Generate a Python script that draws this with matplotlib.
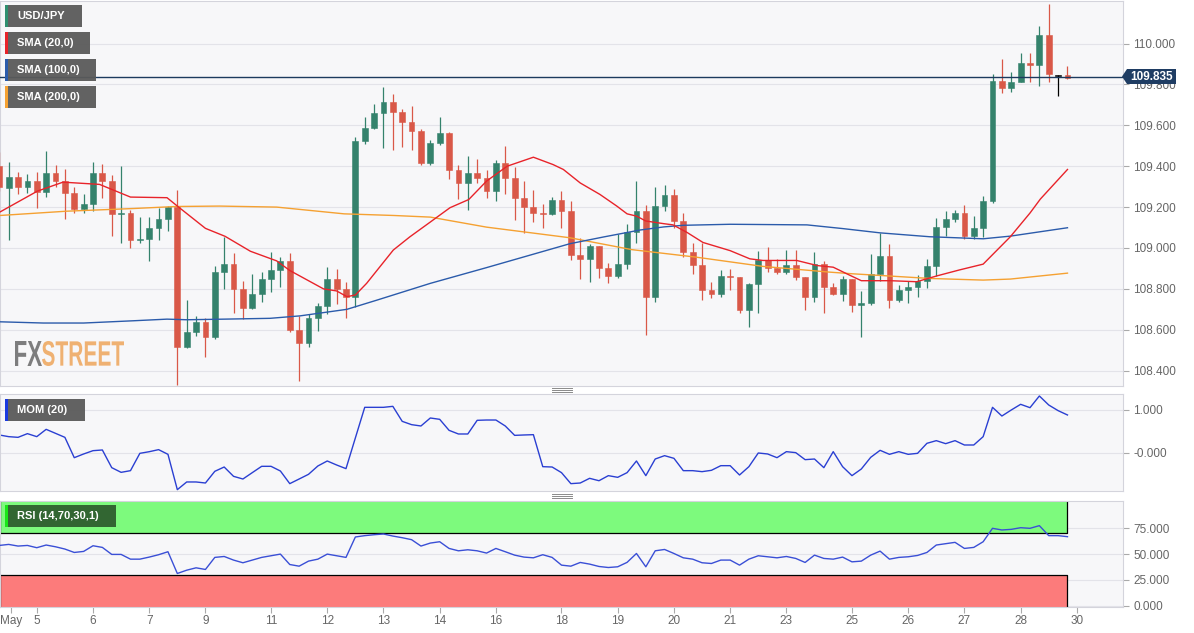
import matplotlib
matplotlib.use("Agg")
import matplotlib.pyplot as plt
import numpy as np
from matplotlib.patches import Rectangle, Polygon, PathPatch
from matplotlib.textpath import TextPath
from matplotlib.font_manager import FontProperties
from matplotlib.transforms import Affine2D
from matplotlib.lines import Line2D

plt.rcParams['font.family'] = ['Liberation Sans', 'DejaVu Sans']

# 4-hour USD/JPY candles (index 0 .. 114)
opens = [109.40, 109.294, 109.346, 109.30, 109.327, 109.275, 109.366, 109.33, 109.27, 109.19,
         109.216, 109.366, 109.33, 109.164, 109.17, 109.04, 109.046, 109.10, 109.14, 109.20,
         108.517, 108.59, 108.64, 108.566, 108.884, 108.924, 108.80, 108.705, 108.777, 108.85,
         108.89, 108.937, 108.597, 108.535, 108.66, 108.717, 108.848, 108.80, 108.76, 109.524,
         109.586, 109.662, 109.714, 109.667, 109.617, 109.573, 109.416, 109.514, 109.561, 109.38,
         109.318, 109.367, 109.34, 109.28, 109.416, 109.34, 109.245, 109.20, 109.172, 109.168,
         109.234, 109.18, 108.964, 108.945, 109.01, 108.90, 108.863, 108.924, 109.078, 109.18,
         108.761, 109.205, 109.258, 109.132, 108.979, 108.915, 108.794, 108.777, 108.861, 108.858,
         108.697, 108.826, 108.939, 108.903, 108.884, 108.915, 108.858, 108.758, 108.923, 108.81,
         108.777, 108.85, 108.719, 108.732, 108.872, 108.961, 108.746, 108.796, 108.807, 108.84,
         108.91, 109.103, 109.144, 109.171, 109.061, 109.098, 109.231, 109.817, 109.782, 109.81,
         109.906, 109.893, 110.044, 109.845, 109.846]
highs = [109.47, 109.42, 109.372, 109.363, 109.372, 109.476, 109.405, 109.384, 109.30, 109.265,
         109.42, 109.41, 109.356, 109.40, 109.188, 109.15, 109.153, 109.195, 109.203, 109.284,
         108.745, 108.668, 108.66, 108.912, 109.054, 108.976, 108.84, 108.872, 108.885, 108.98,
         108.957, 108.976, 108.665, 108.678, 108.73, 108.905, 108.895, 108.833, 109.544, 109.64,
         109.706, 109.787, 109.751, 109.678, 109.695, 109.58, 109.527, 109.64, 109.565, 109.405,
         109.45, 109.437, 109.379, 109.43, 109.50, 109.395, 109.327, 109.286, 109.213, 109.25,
         109.28, 109.229, 109.047, 109.018, 109.01, 108.928, 109.07, 109.115, 109.33, 109.21,
         109.297, 109.306, 109.29, 109.17, 109.026, 109.026, 108.834, 108.894, 108.898, 108.858,
         108.829, 108.987, 109.003, 108.947, 108.99, 108.99, 108.858, 108.982, 108.935, 108.829,
         108.861, 108.85, 108.79, 108.969, 109.074, 109.018, 108.819, 108.84, 108.868, 108.945,
         109.147, 109.179, 109.184, 109.208, 109.155, 109.255, 109.853, 109.922, 109.863, 109.955,
         109.955, 110.087, 110.192, 109.846, 109.89]
lows = [109.28, 109.04, 109.262, 109.27, 109.197, 109.25, 109.30, 109.14, 109.17, 109.17,
        109.18, 109.245, 109.057, 109.026, 109.0, 109.025, 108.937, 109.04, 109.085, 108.33,
        108.51, 108.57, 108.466, 108.555, 108.80, 108.68, 108.655, 108.70, 108.735, 108.787,
        108.807, 108.59, 108.348, 108.518, 108.595, 108.678, 108.728, 108.66, 108.713, 109.508,
        109.58, 109.488, 109.48, 109.496, 109.48, 109.405, 109.405, 109.506, 109.335, 109.242,
        109.184, 109.318, 109.245, 109.23, 109.265, 109.138, 109.073, 109.128, 109.096, 109.16,
        109.10, 108.94, 108.847, 108.834, 108.852, 108.828, 108.855, 108.895, 109.026, 108.576,
        108.737, 109.18, 109.097, 108.958, 108.874, 108.748, 108.755, 108.761, 108.794, 108.68,
        108.613, 108.68, 108.882, 108.871, 108.874, 108.845, 108.697, 108.737, 108.68, 108.769,
        108.742, 108.687, 108.565, 108.722, 108.84, 108.706, 108.735, 108.73, 108.76, 108.803,
        108.861, 109.06, 109.126, 109.045, 109.042, 109.055, 109.22, 109.756, 109.761, 109.81,
        109.814, 109.794, 109.81, 109.742, 109.826]
closes = [109.30, 109.346, 109.30, 109.327, 109.275, 109.366, 109.33, 109.27, 109.19, 109.216,
          109.366, 109.33, 109.164, 109.17, 109.04, 109.046, 109.10, 109.14, 109.20, 108.517,
          108.59, 108.64, 108.566, 108.884, 108.924, 108.80, 108.705, 108.777, 108.85, 108.89,
          108.937, 108.597, 108.535, 108.66, 108.717, 108.848, 108.80, 108.76, 109.524, 109.586,
          109.662, 109.714, 109.667, 109.617, 109.573, 109.416, 109.514, 109.561, 109.38, 109.318,
          109.367, 109.34, 109.28, 109.416, 109.34, 109.245, 109.20, 109.172, 109.168, 109.234,
          109.18, 108.964, 108.945, 109.01, 108.90, 108.863, 108.924, 109.078, 109.18, 108.761,
          109.205, 109.258, 109.132, 108.979, 108.915, 108.794, 108.777, 108.861, 108.858, 108.697,
          108.826, 108.939, 108.903, 108.884, 108.915, 108.858, 108.758, 108.923, 108.81, 108.777,
          108.85, 108.719, 108.732, 108.872, 108.961, 108.746, 108.796, 108.807, 108.84, 108.91,
          109.103, 109.144, 109.171, 109.061, 109.098, 109.231, 109.817, 109.782, 109.81, 109.906,
          109.893, 110.044, 109.85, 109.843, 109.833]
last_price = 109.835

# moving averages as drawn (candle index, value)
sma20_x = [0.07, 4.06, 6.8, 10.7, 14, 17.9, 19, 22, 24.1, 26.8, 29.6, 31, 34.6, 36, 37.1, 38,
           39.2, 42.05, 43.8, 46, 48.1, 50.1, 52, 54.2, 57, 59.1, 60.2, 62, 64.1, 65.9, 67, 68,
           69, 70.9, 71.9, 73.4, 75.1, 78, 80.1, 81.5, 85.1, 87.3, 89, 90.8, 92, 95.1, 97.9,
           100.1, 102.5, 105, 107.9, 110, 111.1, 114]
sma20_y = [109.176, 109.278, 109.322, 109.311, 109.249, 109.246, 109.205, 109.096, 109.057,
           108.984, 108.937, 108.89, 108.80, 108.79, 108.762, 108.77, 108.827, 108.99, 109.054,
           109.127, 109.197, 109.237, 109.327, 109.40, 109.444, 109.408, 109.384, 109.318,
           109.262, 109.205, 109.167, 109.156, 109.132, 109.119, 109.113, 109.076, 109.027,
           108.987, 108.947, 108.939, 108.939, 108.914, 108.906, 108.866, 108.84, 108.84,
           108.835, 108.864, 108.893, 108.921, 109.055, 109.171, 109.239, 109.384]
sma100_x = [0.07, 4.7, 9, 14.3, 17.9, 20, 24, 28.9, 32.1, 37.1, 40.3, 46, 52, 60.9, 64.5, 68.4,
            70.9, 73, 78, 86.2, 90, 94, 99.3, 105, 107.9, 114]
sma100_y = [108.639, 108.633, 108.633, 108.644, 108.652, 108.649, 108.652, 108.656, 108.668,
            108.70, 108.745, 108.827, 108.904, 109.021, 109.054, 109.088, 109.103, 109.111,
            109.116, 109.113, 109.095, 109.074, 109.055, 109.045, 109.058, 109.099]
sma200_x = [0.07, 7.2, 14.3, 18.9, 23.5, 29.6, 36.8, 42.1, 46, 52, 60.9, 67.5, 74.4, 81.5,
            88.6, 91, 99.3, 105, 107.9, 114]
sma200_y = [109.159, 109.18, 109.193, 109.203, 109.205, 109.20, 109.167, 109.159, 109.151,
            109.102, 109.05, 108.992, 108.955, 108.91, 108.882, 108.874, 108.851, 108.843,
            108.848, 108.877]

mom = [0.419, 0.38, 0.364, 0.45, 0.38, 0.55, 0.457, 0.364, -0.109, -0.023,
       0.054, 0.07, -0.341, -0.45, -0.411, -0.008, 0.03, 0.078, -0.031, -0.853,
       -0.674, -0.674, -0.698, -0.426, -0.326, -0.543, -0.605, -0.457, -0.31, -0.31,
       -0.419, -0.713, -0.605, -0.496, -0.302, -0.186, -0.279, -0.364, 0.35, 1.062,
       1.062, 1.062, 1.085, 0.736, 0.659, 0.628, 0.814, 0.783, 0.527, 0.442,
       0.442, 0.76, 0.767, 0.767, 0.628, 0.41, 0.419, 0.426, -0.318, -0.326,
       -0.457, -0.713, -0.698, -0.589, -0.645, -0.527, -0.566, -0.457, -0.186, -0.527,
       -0.14, -0.062, -0.124, -0.411, -0.411, -0.434, -0.403, -0.295, -0.295, -0.512,
       -0.318, 0.0, -0.023, -0.109, 0.031, 0.008, -0.155, -0.14, -0.341, 0.031,
       -0.318, -0.527, -0.372, -0.101, 0.062, -0.031, 0.031, -0.031, -0.008, 0.225,
       0.287, 0.217, 0.287, 0.186, 0.186, 0.38, 1.062, 0.86, 1.0, 1.132,
       1.054, 1.326, 1.116, 0.985, 0.884]
rsi = [58.4, 59.4, 57.8, 58.4, 56.2, 58.8, 57.1, 54.9, 51.6, 52.6,
       58.1, 56.5, 49.7, 49.7, 45.1, 45.1, 47.1, 49.4, 52.3, 31.2,
       34.4, 36.7, 35.1, 46.8, 47.7, 44.2, 41.6, 44.2, 46.8, 48.4,
       50.0, 39.9, 38.3, 43.2, 45.1, 50.0, 48.4, 46.8, 66.6, 67.9,
       68.8, 69.5, 67.5, 65.9, 64.0, 57.8, 60.7, 62.0, 55.5, 53.2,
       54.2, 53.2, 51.0, 55.5, 52.3, 49.0, 47.1, 46.4, 49.4, 46.8,
       39.3, 38.3, 41.9, 40.3, 38.0, 37.0, 37.7, 42.0, 50.6, 37.7,
       53.2, 54.5, 50.6, 46.4, 45.1, 41.6, 40.9, 44.2, 44.2, 39.3,
       45.1, 48.4, 47.4, 46.4, 47.7, 45.8, 41.9, 49.0, 45.8, 45.1,
       47.1, 42.5, 43.2, 49.0, 52.9, 45.1, 46.8, 47.4, 48.7, 51.6,
       58.8, 60.1, 61.4, 55.5, 56.5, 62.0, 75.0, 73.4, 74.0, 75.6,
       75.0, 77.6, 67.9, 67.9, 66.9]

tick_pos = [1.3, 4, 10, 16, 22, 29, 35, 41, 47, 53, 60, 66, 72, 78, 84, 91, 97, 103, 109, 115]
tick_lab = ['May', '5', '6', '7', '9', '11', '12', '13', '14', '16', '18', '19', '20', '21',
            '23', '25', '26', '27', '28', '30']

UP = '#34826c'
DOWN = '#d95848'
GRID = '#e3e3e9'
BG = '#f7f7f9'
SPINE = '#d4d4dc'
TXT = '#666666'

W, H = 1194, 633
fig = plt.figure(figsize=(W / 100, H / 100), dpi=100)


def fx(px):
    return px / W


def fy(py):
    return 1 - py / H


right = 1123
ax = fig.add_axes([0, fy(386), fx(right), 385 / H])
ax_mom = fig.add_axes([0, fy(491), fx(right), 97 / H], sharex=ax)
ax_rsi = fig.add_axes([0, fy(607), fx(right), 106 / H], sharex=ax)

for a in (ax, ax_mom, ax_rsi):
    a.set_facecolor(BG)
    for s in a.spines.values():
        s.set_color(SPINE)
        s.set_linewidth(0.8)
    a.yaxis.tick_right()
    a.grid(axis='y', color=GRID, lw=0.8)
    a.set_axisbelow(True)
    a.tick_params(axis='y', colors='#aaaaaa', labelcolor=TXT, labelsize=8.5, length=4, pad=3.5)

ax.set_xlim(0.075, (right + 0.7) / 9.37)

# candles
idx = np.arange(len(opens))
o = np.array(opens)
c = np.array(closes)
cols = [UP if cc >= oo else DOWN for oo, cc in zip(o, c)]
cols[113] = '#000000'
ax.vlines(idx, lows, highs, colors=cols, lw=0.9, zorder=3)
ax.bar(idx, np.maximum(np.abs(c - o), 0.004), bottom=np.minimum(o, c), width=0.62,
       color=cols, edgecolor=cols, lw=0.4, zorder=4)

ax.plot(sma200_x, sma200_y, color='#f5a132', lw=1.0, zorder=5)
ax.plot(sma100_x, sma100_y, color='#2b5bab', lw=1.0, zorder=5)
ax.plot(sma20_x, sma20_y, color='#e8232a', lw=1.0, zorder=5)
ax.axhline(last_price, color='#1c3a5e', lw=1.0, zorder=6)

ax.set_ylim(108.325, 110.208)
yt = np.arange(108.4, 110.01, 0.2)
ax.set_yticks(yt)
ax.set_yticklabels(['%.3f' % v for v in yt])
ax.tick_params(axis='x', bottom=False, labelbottom=False)

# momentum
ax_mom.plot(idx, mom, color='#2a3fd2', lw=1.0)
ax_mom.set_ylim(-0.884, 1.372)
ax_mom.set_yticks([0, 1])
ax_mom.set_yticklabels(['-0.000', '1.000'])
ax_mom.tick_params(axis='x', bottom=False, labelbottom=False)

# rsi
x0 = 0.075
last = idx[-1]
ax_rsi.set_ylim(-1.3, 101.5)
ax_rsi.add_patch(Rectangle((x0, 70), last - x0, 32, fc='#7dfa7d', ec='none', zorder=1))
ax_rsi.add_patch(Rectangle((x0, -1.3), last - x0, 31.3, fc='#fc7b7b', ec='none', zorder=1))
ax_rsi.plot([x0, last, last], [70, 70, 101.5], color='black', lw=0.9, zorder=2)
ax_rsi.plot([x0, last, last], [30, 30, -1.3], color='black', lw=0.9, zorder=2)
ax_rsi.plot([x0 + 0.05, x0 + 0.05], [70, 101.5], color='black', lw=0.9, zorder=2)
ax_rsi.plot([x0 + 0.05, x0 + 0.05], [30, -1.3], color='black', lw=0.9, zorder=2)
ax_rsi.plot(idx, rsi, color='#3a4fd6', lw=1.0, zorder=3)
ax_rsi.set_yticks([0, 25, 50, 75])
ax_rsi.set_yticklabels(['0.000', '25.000', '50.000', '75.000'])
ax_rsi.set_xticks(tick_pos)
ax_rsi.set_xticklabels(tick_lab)
ax_rsi.tick_params(axis='x', colors='#aaaaaa', labelcolor=TXT, labelsize=8.5, length=4, pad=2)


# legend tags
def tag(x1, y1, x2, y2, label, bar, bg='#5a5a5a'):
    fig.add_artist(Rectangle((fx(x1), fy(y2)), fx(x2 - x1), (y2 - y1) / H,
                             transform=fig.transFigure, fc=bg, ec='none', alpha=0.95))
    fig.add_artist(Rectangle((fx(x1), fy(y2)), fx(3), (y2 - y1) / H,
                             transform=fig.transFigure, fc=bar, ec='none'))
    fig.text(fx(x1 + 12), fy((y1 + y2) / 2), label, color='white', fontsize=8,
             fontweight='bold', va='center', ha='left')


tag(5, 5, 82, 27, 'USD/JPY', '#2f8f6f')
tag(5, 32, 90, 54, 'SMA (20,0)', '#e8232a')
tag(5, 59, 96, 81, 'SMA (100,0)', '#2b5bab')
tag(5, 86, 96, 108, 'SMA (200,0)', '#f5a132')
tag(5, 399, 85, 421, 'MOM (20)', '#1a3adf')
tag(5, 505, 116, 527, 'RSI (14,70,30,1)', '#19e619', bg='#2e5e2e')

# last price label
py = 76.5
fig.add_artist(Polygon([(fx(1122), fy(py)), (fx(1127), fy(py - 7.5)), (fx(1176), fy(py - 7.5)),
                        (fx(1176), fy(py + 7.5)), (fx(1127), fy(py + 7.5))],
                       closed=True, transform=fig.transFigure, fc='#1f3d63', ec='none'))
fig.text(fx(1151.5), fy(py), '%.3f' % last_price, color='white', fontsize=8.5,
         fontweight='bold', ha='center', va='center')

# panel separators
for yy in (388, 390, 392, 494, 496, 498):
    fig.add_artist(Line2D([fx(552), fx(572)], [fy(yy), fy(yy)], transform=fig.transFigure,
                          color='#8a8a8a', lw=0.7))

# FXSTREET logo
fp = FontProperties(family='Liberation Sans', weight='bold')
for word, xa, xb, col in (('FX', 15, 42, '#5f5f5f'), ('STREET', 42, 124, '#eea050')):
    tp = TextPath((0, 0), word, size=1, prop=fp)
    ext = tp.get_extents()
    sx = (xb - xa) / ext.width
    sy = 25 / ext.height
    tr = Affine2D().translate(-ext.x0, -ext.y0).scale(sx / W, sy / H).translate(fx(xa), fy(366)) \
        + fig.transFigure
    fig.add_artist(PathPatch(tp, transform=tr, fc=col, ec='none', alpha=0.8))

fig.savefig('out.png', dpi=100, facecolor='white')
